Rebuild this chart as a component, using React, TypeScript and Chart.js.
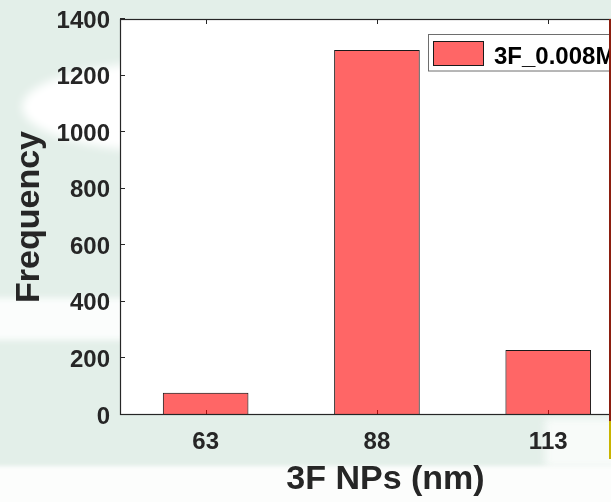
import React, { useEffect, useRef } from 'react';
import { Chart, registerables } from 'chart.js';

Chart.register(...registerables);

// ---- data ----
const sizes = [63, 88, 113];
const tickLabels = ['63', '88', '113'];
const frequency = [79, 1290, 230];
const yTicks = [0, 200, 400, 600, 800, 1000, 1200, 1400];
const seriesLabel = '3F_0.008M';
const xTitle = '3F NPs (nm)';
const yTitle = 'Frequency';

const FONT = '"Liberation Sans", Arial, Helvetica, sans-serif';
const INK = '#262626';
const BAR_FILL = 'rgba(255,0,0,0.6)';

const framePlugin = {
  id: 'matlabFrame',
  beforeDraw(chart: any) {
    const { ctx, chartArea } = chart;
    const { left, top, right, bottom } = chartArea;
    ctx.save();
    ctx.fillStyle = '#ffffff';
    ctx.fillRect(left, top, right - left, bottom - top);
    ctx.restore();
  },
  beforeDatasetsDraw(chart: any) {
    const { ctx, chartArea, scales } = chart;
    const { left, top, right, bottom } = chartArea;
    const tl = 5;
    ctx.save();
    ctx.strokeStyle = INK;
    ctx.lineWidth = 1;
    ctx.beginPath();
    yTicks.forEach((v) => {
      const py = Math.round(scales.y.getPixelForValue(v)) - 0.5;
      ctx.moveTo(left, py);
      ctx.lineTo(left + tl, py);
      ctx.moveTo(right, py);
      ctx.lineTo(right - tl, py);
    });
    sizes.forEach((v) => {
      const px = Math.round(scales.x.getPixelForValue(v)) + 0.5;
      ctx.moveTo(px, bottom);
      ctx.lineTo(px, bottom - tl);
      ctx.moveTo(px, top);
      ctx.lineTo(px, top + tl);
    });
    ctx.stroke();
    ctx.restore();
  },
  afterDatasetsDraw(chart: any) {
    const { ctx, chartArea } = chart;
    const { left, top, right, bottom } = chartArea;
    ctx.save();
    ctx.strokeStyle = INK;
    ctx.lineWidth = 1.2;
    ctx.strokeRect(left + 0.5, top + 0.5, right - left, bottom - top - 1);
    ctx.restore();
  },
  afterDraw(chart: any) {
    const { ctx } = chart;
    const label = chart.data.datasets[0].label;
    ctx.save();
    ctx.fillStyle = '#ffffff';
    ctx.fillRect(428.5, 34.5, 240, 36.5);
    ctx.strokeStyle = '#6e6e6e';
    ctx.lineWidth = 1;
    ctx.strokeRect(428.5, 34.5, 240, 36.5);
    ctx.fillStyle = BAR_FILL;
    ctx.fillRect(433.5, 41.5, 50, 24);
    ctx.strokeStyle = '#1a1a1a';
    ctx.strokeRect(433.5, 41.5, 50, 24);
    ctx.fillStyle = '#000000';
    ctx.font = `bold 24px ${FONT}`;
    ctx.textBaseline = 'alphabetic';
    ctx.textAlign = 'left';
    ctx.fillText(label, 494, 63.5);
    ctx.restore();
  },
};

export default function App() {
  const canvasRef = useRef<HTMLCanvasElement | null>(null);

  useEffect(() => {
    if (!canvasRef.current) return;
    const chart = new Chart(canvasRef.current, {
      type: 'bar',
      data: {
        datasets: [
          {
            label: seriesLabel,
            data: sizes.map((s, i) => ({ x: s, y: frequency[i] })),
            backgroundColor: BAR_FILL,
            borderColor: '#1a1a1a',
            borderWidth: 1,
            borderSkipped: false,
            barPercentage: 1,
            categoryPercentage: 0.5,
          } as any,
        ],
      },
      options: {
        responsive: false,
        animation: false,
        devicePixelRatio: 1,
        layout: { padding: { left: 0, top: 19, right: 9, bottom: 0 } },
        plugins: {
          legend: { display: false },
          tooltip: { enabled: false },
        },
        scales: {
          x: {
            type: 'linear',
            offset: false,
            min: 50.5,
            max: 128,
            grid: { display: false, offset: false, drawTicks: false },
            border: { display: false },
            afterBuildTicks: (scale: any) => {
              scale.ticks = sizes.map((v) => ({ value: v }));
            },
            afterFit: (scale: any) => {
              scale.height = 87;
              scale.paddingLeft = 0;
              scale.paddingRight = 0;
            },
            ticks: {
              autoSkip: false,
              maxRotation: 0,
              padding: 13,
              color: INK,
              font: { family: FONT, size: 24, weight: 'bold' },
              callback: (v: any) => {
                const i = sizes.indexOf(Number(v));
                return i >= 0 ? tickLabels[i] : '';
              },
            },
            title: {
              display: true,
              text: xTitle,
              color: INK,
              font: { family: FONT, size: 34, weight: 'bold' },
              padding: { top: 0, bottom: 2 },
            },
          },
          y: {
            type: 'linear',
            min: 0,
            max: 1400,
            grid: { display: false, drawTicks: false },
            border: { display: false },
            afterBuildTicks: (scale: any) => {
              scale.ticks = yTicks.map((v) => ({ value: v }));
            },
            afterFit: (scale: any) => {
              scale.width = 120;
              scale.paddingTop = 0;
              scale.paddingBottom = 0;
            },
            ticks: {
              autoSkip: false,
              padding: 10,
              labelOffset: 2,
              color: INK,
              font: { family: FONT, size: 24, weight: 'bold' },
              callback: (v: any) => String(v),
            },
            title: {
              display: true,
              text: yTitle,
              color: INK,
              font: { family: FONT, size: 34, weight: 'bold' },
              padding: { top: 9.5, bottom: 0 },
            },
          },
        },
      } as any,
      plugins: [framePlugin],
    });
    return () => chart.destroy();
  }, []);

  const abs = (s: React.CSSProperties): React.CSSProperties => ({
    position: 'absolute',
    pointerEvents: 'none',
    ...s,
  });

  return (
    <div
      style={{
        position: 'fixed',
        left: 0,
        top: 0,
        width: 611,
        height: 502,
        overflow: 'hidden',
        background: '#e3efe9',
      }}
    >
      <div style={abs({ left: 22, top: 62, width: 300, height: 90, borderRadius: '50%', background: '#ffffff', filter: 'blur(5px)' })} />
      <div style={abs({ left: -10, top: 298, width: 140, height: 42, background: '#fbfdfc', filter: 'blur(3px)' })} />
      <div style={abs({ left: 545, top: 418, width: 80, height: 50, background: '#f8fbf9', filter: 'blur(4px)' })} />
      <div style={abs({ left: -10, top: 466, width: 640, height: 50, background: '#fcfdfc', filter: 'blur(2px)' })} />
      <canvas
        ref={canvasRef}
        width={660}
        height={502}
        style={{ position: 'absolute', left: 0, top: 0, width: 660, height: 502 }}
      />
      <div style={abs({ left: 609, top: 19, width: 2, height: 402, background: '#8c1f10' })} />
      <div style={abs({ left: 609, top: 421, width: 2, height: 38, background: '#c9b400' })} />
    </div>
  );
}
